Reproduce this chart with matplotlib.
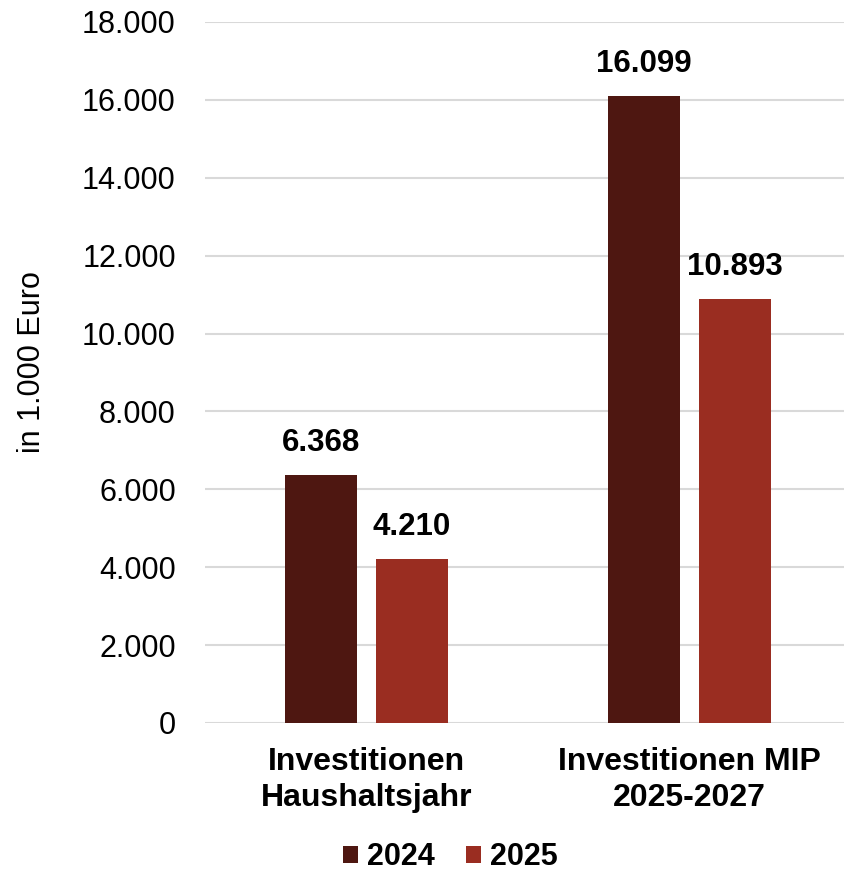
import matplotlib.pyplot as plt
import numpy as np

plt.rcParams['font.family'] = ['Liberation Sans', 'DejaVu Sans']

categories = ['Investitionen\nHaushaltsjahr', 'Investitionen MIP\n2025-2027']
series_names = ['2024', '2025']
values_2024 = [6368, 16099]
values_2025 = [4210, 10893]
colors = ['#4E1711', '#9A2D21']

fig = plt.figure(figsize=(8.45, 8.72), dpi=100)
ax = fig.add_axes([0.2426, 0.1709, 0.7645, 0.8039])

x = np.arange(len(categories))
w = 0.223
off = 0.141
b1 = ax.bar(x - off, values_2024, w, color=colors[0], label=series_names[0], zorder=3)
b2 = ax.bar(x + off, values_2025, w, color=colors[1], label=series_names[1], zorder=3)

for bars in (b1, b2):
    for rect in bars:
        h = rect.get_height()
        ax.annotate(f'{h:,.0f}'.replace(',', '.'), (rect.get_x() + rect.get_width() / 2, h),
                    xytext=(0, 12), textcoords='offset points', ha='center', va='bottom',
                    fontsize=22.5, fontweight='bold')

ax.set_ylim(0, 18000)
ax.set_xlim(-0.5, 1.5)
yt = np.arange(0, 18001, 2000)
ax.set_yticks(yt)
ax.set_yticklabels([f'{v:,}'.replace(',', '.') for v in yt], fontsize=22)
ax.set_xticks(x)
ax.set_xticklabels(categories, fontsize=23, fontweight='bold', linespacing=1.3)
ax.tick_params(axis='y', length=0, pad=21)
ax.tick_params(axis='x', length=0, pad=17)
ax.grid(axis='y', color='#D9D9D9', linewidth=1.5, zorder=0)
for s in ax.spines.values():
    s.set_visible(False)
ax.set_ylabel('in 1.000 Euro', fontsize=22)
ax.yaxis.set_label_coords(-0.245, 0.515)

fig.legend(handles=[b1, b2], loc='center', bbox_to_anchor=(0.533, 0.017), ncol=2,
           frameon=False, prop={'size': 22, 'weight': 'bold'},
           handlelength=0.5, handleheight=0.5, handletextpad=0.3, columnspacing=1.0)

fig.savefig('out.png', dpi=100)
